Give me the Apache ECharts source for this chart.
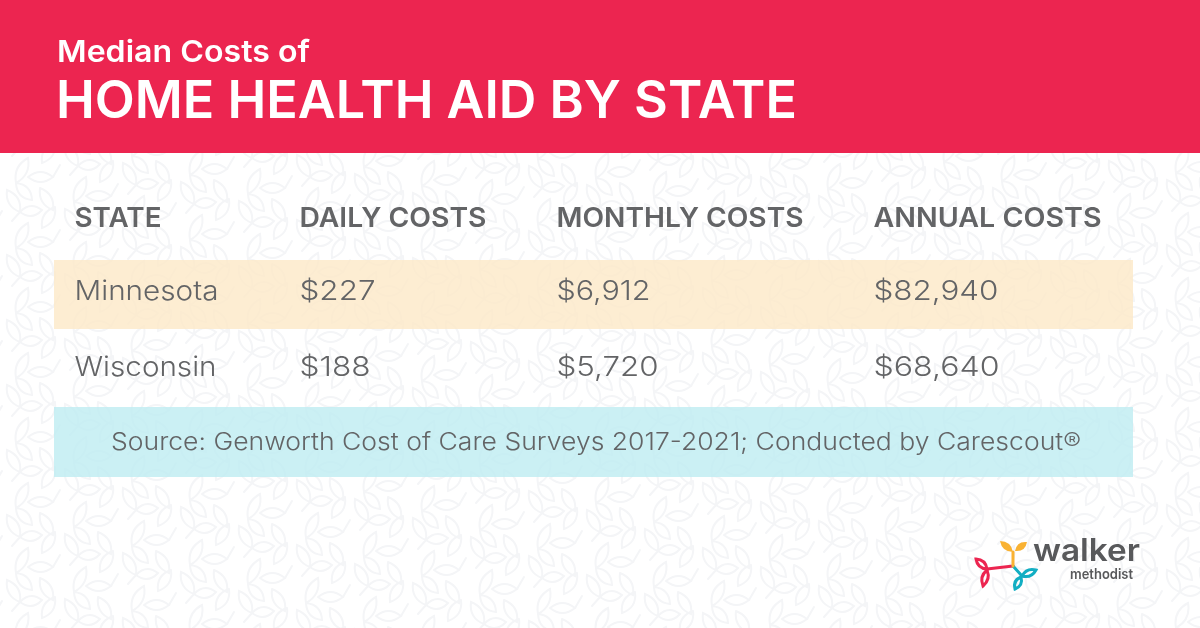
<!DOCTYPE html>
<html>
<head>
    <meta charset="UTF-8">
    <title>Median Costs of Home Health Aid by State</title>
    <script src="https://cdn.jsdelivr.net/npm/echarts@6/dist/echarts.min.js"></script>
    <style>
        html, body { margin: 0; padding: 0; background: #fff; }
        #main { width: 1200px; height: 628px; }
    </style>
</head>
<body>
<div id="main"></div>
<script type="text/javascript">
    // table contents
    var titleSmall = 'Median Costs of';
    var titleBig = 'HOME HEALTH AID BY STATE';
    var headers = ['STATE', 'DAILY COSTS', 'MONTHLY COSTS', 'ANNUAL COSTS'];
    var states = ['Minnesota', 'Wisconsin'];
    var dailyCosts = ['$227', '$188'];
    var monthlyCosts = ['$6,912', '$5,720'];
    var annualCosts = ['$82,940', '$68,640'];
    var sourceNote = 'Source: Genworth Cost of Care Surveys 2017-2021; Conducted by Carescout\u00AE';

    var font = 'Inter';
    var grey = '#636466';
    var colX = [74.5, 299.5, 556.5, 873.5];
    var rowY = [291.5, 367.5];
    // text widths measured on the picture, text gets stretched to them
    var headerW = [87, 187, 247, 228];
    var cellW = [[144, 76, 94, 125], [142, 71, 102, 126]];

    echarts.graphic.registerShape('leaf', echarts.graphic.extendShape({
        shape: { x1: 0, y1: 0, x2: 0, y2: 0, bulge: 0 },
        buildPath: function (ctx, s) {
            var mx = (s.x1 + s.x2) / 2, my = (s.y1 + s.y2) / 2;
            var dx = s.x2 - s.x1, dy = s.y2 - s.y1;
            var len = Math.sqrt(dx * dx + dy * dy) || 1;
            var nx = -dy / len * s.bulge, ny = dx / len * s.bulge;
            ctx.moveTo(s.x1, s.y1);
            ctx.quadraticCurveTo(mx + nx, my + ny, s.x2, s.y2);
            ctx.quadraticCurveTo(mx - nx, my - ny, s.x1, s.y1);
            ctx.closePath();
        }
    }));

    // leaf pattern for the page background
    function leafPattern() {
        var c = document.createElement('canvas');
        c.width = 1200; c.height = 628;
        var ctx = c.getContext('2d');
        ctx.fillStyle = '#ffffff';
        ctx.fillRect(0, 0, 1200, 628);
        ctx.strokeStyle = '#f4f5f7';
        ctx.lineWidth = 2;
        ctx.lineCap = 'round';
        var cellLeaves = [
            [20, 212, 42, 210], [20, 212, 7, 190], [16, 183, 28, 158], [16, 183, 32, 200],
            [28, 177, 53, 177], [40, 188, 53, 210], [55, 207, 42, 228]
        ];
        var cellStems = [[12, 221, 20, 212], [53, 177, 60, 165]];
        for (var i = -3; i < 24; i++) {
            for (var j = -12; j < 16; j++) {
                var ox = i * 58, oy = i * 19 + j * 65;
                cellLeaves.forEach(function (l) {
                    var mx = (l[0] + l[2]) / 2 + ox, my = (l[1] + l[3]) / 2 + oy;
                    var dx = l[2] - l[0], dy = l[3] - l[1];
                    var d = Math.sqrt(dx * dx + dy * dy);
                    var nx = -dy / d * 10, ny = dx / d * 10;
                    ctx.beginPath();
                    ctx.moveTo(l[0] + ox, l[1] + oy);
                    ctx.quadraticCurveTo(mx + nx, my + ny, l[2] + ox, l[3] + oy);
                    ctx.quadraticCurveTo(mx - nx, my - ny, l[0] + ox, l[1] + oy);
                    ctx.stroke();
                });
                cellStems.forEach(function (s) {
                    ctx.beginPath();
                    ctx.moveTo(s[0] + ox, s[1] + oy);
                    ctx.lineTo(s[2] + ox, s[3] + oy);
                    ctx.stroke();
                });
            }
        }
        return c;
    }

    var measureCtx = document.createElement('canvas').getContext('2d');

    function text(x, y, str, size, color, weight, width) {
        var f = weight + ' ' + size + 'px ' + font;
        measureCtx.font = f;
        var el = {
            type: 'text', x: x, y: y, silent: true,
            style: { text: str, fill: color, font: f, textAlign: 'left', textVerticalAlign: 'middle' }
        };
        if (width) {
            el.scaleX = width / measureCtx.measureText(str).width;
        }
        return el;
    }

    function rect(x, y, w, h, color) {
        return { type: 'rect', shape: { x: x, y: y, width: w, height: h }, style: { fill: color }, silent: true };
    }

    function leaf(x1, y1, x2, y2, bulge, color, hollow) {
        return {
            type: 'leaf', silent: true,
            shape: { x1: x1, y1: y1, x2: x2, y2: y2, bulge: bulge },
            style: hollow ? { fill: 'none', stroke: color, lineWidth: 3 } : { fill: color }
        };
    }

    function stem(x1, y1, x2, y2, color) {
        return {
            type: 'line', silent: true,
            shape: { x1: x1, y1: y1, x2: x2, y2: y2 },
            style: { stroke: color, lineWidth: 3, lineCap: 'round' }
        };
    }

    var items = [
        rect(0, 0, 1200, 153, '#ec2550'),
        text(57, 52.5, titleSmall, 30, '#ffffff', 600, 253),
        text(56, 102.5, titleBig, 52, '#ffffff', 600, 741),
        rect(54, 260, 1079, 69, 'rgba(253,233,200,0.82)'),
        rect(54, 407, 1079, 70, 'rgba(190,236,241,0.8)'),
        text(111, 442.5, sourceNote, 24, grey, 300, 970)
    ];

    headers.forEach(function (h, i) {
        items.push(text(colX[i], 218.5, h, 27.5, grey, 600, headerW[i]));
    });

    states.forEach(function (s, r) {
        var cells = [s, dailyCosts[r], monthlyCosts[r], annualCosts[r]];
        cells.forEach(function (v, i) {
            items.push(text(colX[i], rowY[r], v, 27.5, grey, 300, cellW[r][i]));
        });
    });

    // walker methodist logo
    var red = '#ec2550', teal = '#12aec3', yellow = '#f9b233';
    items.push(
        stem(987, 569, 1013, 566, red),
        stem(1013, 566, 1022, 576, teal),
        stem(1013, 566, 1013, 552, yellow),
        leaf(1000, 541, 1013, 552, 7, yellow),
        leaf(1027, 542, 1015, 551, 7, yellow),
        leaf(976, 559, 987, 569, 6, red, true),
        leaf(983, 586, 987, 570, 6, red, true),
        leaf(1036, 570, 1022, 576, 6, teal, true),
        leaf(1015, 589, 1021, 577, 6, teal, true),
        text(1033, 552, 'walker', 31, '#58595b', 600, 107),
        text(1070, 575, 'methodist', 14, '#58595b', 600, 63)
    );

    var myChart = echarts.init(document.getElementById('main'));

    var option = {
        animation: false,
        backgroundColor: { image: leafPattern(), repeat: 'no-repeat' },
        graphic: { elements: items }
    };

    myChart.setOption(option);
</script>
</body>
</html>
